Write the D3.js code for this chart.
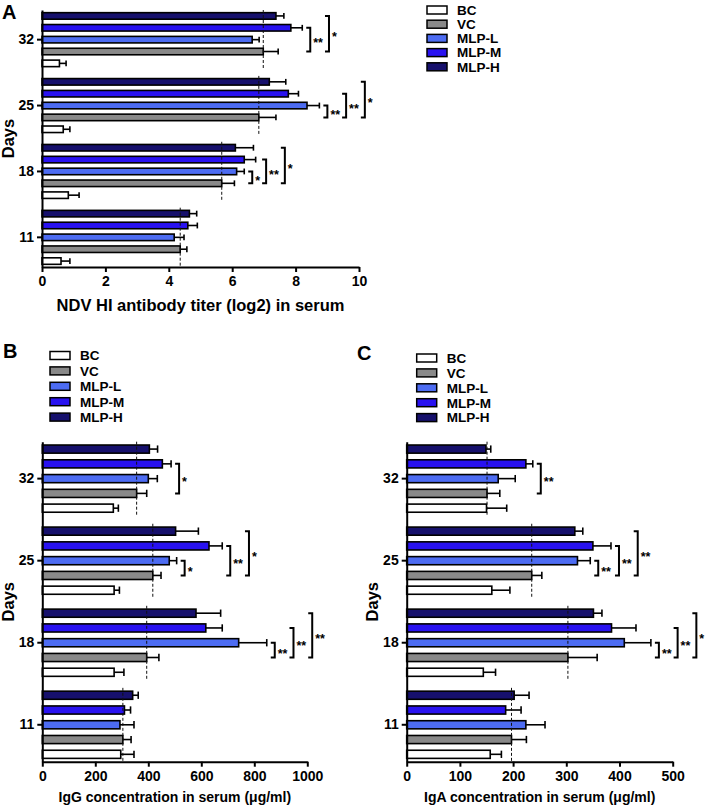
<!DOCTYPE html>
<html><head><meta charset="utf-8">
<script src="https://cdn.jsdelivr.net/npm/d3@7"></script>
<style>
body{margin:0;background:#fff}
svg{display:block}
text{font-family:"Liberation Sans",Arial,Helvetica,sans-serif;font-weight:bold;fill:#000}
</style>
</head><body>
<svg id="chart" width="705" height="807"></svg>
<script>
// ---------- shared categories ----------
const days = ["11", "18", "25", "32"];
const dayOrder = ["32", "25", "18", "11"];            // top to bottom
const seriesNames = ["BC", "VC", "MLP-L", "MLP-M", "MLP-H"];
const seriesOrder = ["MLP-H", "MLP-M", "MLP-L", "VC", "BC"]; // top to bottom in a group
const seriesColors = ["#ffffff", "#898989", "#4d6cf2", "#2912f0", "#16106c"];

// ---------- Panel A: NDV HI antibody titer (log2) ----------
const hiBC   = [0.60, 0.83, 0.67, 0.55];
const hiVC   = [4.36, 5.67, 6.84, 6.98];
const hiL    = [4.17, 6.14, 8.36, 6.63];
const hiM    = [4.60, 6.38, 7.77, 7.85];
const hiH    = [4.65, 6.10, 7.17, 7.38];
const hiBCsd = [0.28, 0.34, 0.21, 0.21];
const hiVCsd = [0.21, 0.40, 0.54, 0.47];
const hiLsd  = [0.31, 0.24, 0.39, 0.22];
const hiMsd  = [0.30, 0.36, 0.32, 0.36];
const hiHsd  = [0.23, 0.57, 0.52, 0.25];
const hiTicks = [0, 2, 4, 6, 8, 10];
const hiSig = [["32","MLP-M","**"],["32","MLP-H","*"],
               ["25","MLP-L","**"],["25","MLP-M","**"],["25","MLP-H","*"],
               ["18","MLP-L","*"],["18","MLP-M","**"],["18","MLP-H","*"]];

// ---------- Panel B: IgG (µg/ml) ----------
const iggBC   = [296, 271, 271, 268];
const iggVC   = [304, 394, 417, 356];
const iggL    = [293, 741, 479, 400];
const iggM    = [310, 617, 629, 453];
const iggH    = [341, 580, 503, 404];
const iggBCsd = [50, 37, 20, 19];
const iggVCsd = [31, 46, 31, 38];
const iggLsd  = [53, 106, 28, 34];
const iggMsd  = [23, 62, 50, 33];
const iggHsd  = [21, 93, 86, 31];
const iggTicks = [0, 200, 400, 600, 800, 1000];
const iggSig = [["32","MLP-M","*"],
                ["25","MLP-L","*"],["25","MLP-M","**"],["25","MLP-H","*"],
                ["18","MLP-L","**"],["18","MLP-M","**"],["18","MLP-H","**"]];

// ---------- Panel C: IgA (µg/ml) ----------
const igaBC   = [157, 144, 160, 150];
const igaVC   = [197, 303, 235, 151];
const igaL    = [224, 409, 321, 172];
const igaM    = [186, 385, 350, 224];
const igaH    = [202, 351, 316, 149];
const igaBCsd = [21, 23, 34, 38];
const igaVCsd = [28, 55, 19, 24];
const igaLsd  = [36, 50, 24, 32];
const igaMsd  = [29, 46, 34, 13];
const igaHsd  = [28, 16, 15, 9];
const igaTicks = [0, 100, 200, 300, 400, 500];
const igaSig = [["32","MLP-M","**"],
                ["25","MLP-L","**"],["25","MLP-M","**"],["25","MLP-H","**"],
                ["18","MLP-L","**"],["18","MLP-M","**"],["18","MLP-H","*"]];

const svg = d3.select("#chart");

function drawPanel(o) {
  const g = svg.append("g");
  const x = d3.scaleLinear().domain([0, o.ticks[o.ticks.length - 1]]).range([o.x0, o.x1]);
  const yDay = d3.scaleBand().domain(dayOrder).range([o.yTop, o.yBottom]).paddingInner(0.1).paddingOuter(0);
  const ySer = d3.scaleBand().domain(seriesOrder).range([0, yDay.bandwidth()]).paddingInner(o.barPad).paddingOuter(o.barPad / 2);
  const bh = ySer.bandwidth();

  const rows = [];
  seriesNames.forEach((s, si) => {
    days.forEach((d, di) => {
      rows.push({day: d, series: s, color: seriesColors[si], mean: o.means[si][di], sd: o.sds[si][di]});
    });
  });
  const yc = r => yDay(r.day) + ySer(r.series) + bh / 2;
  const get = (d, s) => rows.find(r => r.day === d && r.series === s);

  // bars
  g.selectAll("rect.bar").data(rows).join("rect")
    .attr("x", x(0)).attr("y", r => yDay(r.day) + ySer(r.series))
    .attr("width", r => x(r.mean) - x(0)).attr("height", bh)
    .attr("fill", r => r.color).attr("stroke", "#000").attr("stroke-width", 1.6);

  // error bars
  g.selectAll("line.err").data(rows).join("line")
    .attr("x1", r => x(r.mean)).attr("x2", r => x(r.mean + r.sd))
    .attr("y1", yc).attr("y2", yc).attr("stroke", "#000").attr("stroke-width", 1.6);
  g.selectAll("line.cap").data(rows).join("line")
    .attr("x1", r => x(r.mean + r.sd)).attr("x2", r => x(r.mean + r.sd))
    .attr("y1", r => yc(r) - bh * 0.45).attr("y2", r => yc(r) + bh * 0.45)
    .attr("stroke", "#000").attr("stroke-width", 1.6);

  // dashed reference lines at VC
  g.selectAll("line.ref").data(days).join("line")
    .attr("x1", d => x(get(d, "VC").mean)).attr("x2", d => x(get(d, "VC").mean))
    .attr("y1", d => yDay(d)).attr("y2", d => yDay(d) + yDay.bandwidth())
    .attr("stroke", "#111").attr("stroke-width", 1).attr("stroke-dasharray", "3,2");

  // significance brackets
  const lastByDay = {};
  o.sig.forEach(([d, s, lab]) => {
    const i0 = seriesOrder.indexOf(s), i1 = seriesOrder.indexOf("VC");
    let maxEnd = 0;
    for (let i = i0; i <= i1; i++) { const r = get(d, seriesOrder[i]); maxEnd = Math.max(maxEnd, r.mean + r.sd); }
    let bx = x(maxEnd) + 8;
    if (lastByDay[d]) bx = Math.max(bx, lastByDay[d]);
    const yA = yc(get(d, s)), yB = yc(get(d, "VC"));
    g.append("path").attr("d", `M${bx - 4},${yA}H${bx}V${yB}H${bx - 4}`)
      .attr("fill", "none").attr("stroke", "#000").attr("stroke-width", 2);
    const t = g.append("text").attr("x", bx + 3).attr("y", (yA + yB) / 2 + 7.5)
      .attr("font-size", 12.5).text(lab);
    lastByDay[d] = bx + 3 + t.node().getComputedTextLength() + 6;
  });

  // axes
  const xa = g.append("g").attr("transform", `translate(0,${o.yBottom})`)
    .call(d3.axisBottom(x).tickValues(o.ticks).tickFormat(d3.format("d"))
      .tickSize(5).tickSizeOuter(0).tickPadding(4));
  const ya = g.append("g").attr("transform", `translate(${o.x0},0)`)
    .call(d3.axisLeft(yDay).tickSize(5).tickSizeOuter(0).tickPadding(3));
  [xa, ya].forEach(a => {
    a.selectAll("path,line").attr("stroke", "#000").attr("stroke-width", 2);
    a.selectAll("text").attr("font-size", 14).attr("font-family", null).attr("fill", "#000");
  });

  // titles
  g.append("text").attr("x", (o.x0 + o.x1) / 2).attr("y", o.titleY).attr("text-anchor", "middle")
    .attr("font-size", o.titleSize).text(o.title);
  g.append("text").attr("transform", `translate(${o.daysX},${(o.yTop + o.yBottom) / 2}) rotate(-90)`)
    .attr("text-anchor", "middle").attr("font-size", 16.5).text("Days");
  g.append("text").attr("x", o.letterX).attr("y", o.letterY).attr("font-size", 20).text(o.letter);

  // legend
  const lg = g.append("g");
  seriesNames.forEach((s, i) => {
    const cy = o.legY + i * o.legStep;
    lg.append("rect").attr("x", o.legX).attr("y", cy - 4).attr("width", 20).attr("height", 8)
      .attr("fill", seriesColors[i]).attr("stroke", "#000").attr("stroke-width", 1.5);
    lg.append("text").attr("x", o.legX + 30).attr("y", cy + 4.8).attr("font-size", 13.5).text(s);
  });
}

drawPanel({
  means: [hiBC, hiVC, hiL, hiM, hiH], sds: [hiBCsd, hiVCsd, hiLsd, hiMsd, hiHsd],
  ticks: hiTicks, sig: hiSig, x0: 42, x1: 359, yTop: 10, yBottom: 267, barPad: 0.45,
  title: "NDV HI antibody titer (log2) in serum", titleY: 311, titleSize: 16.5,
  daysX: 13.5, letter: "A", letterX: 2, letterY: 19,
  legX: 427, legY: 10, legStep: 14.2
});
drawPanel({
  means: [iggBC, iggVC, iggL, iggM, iggH], sds: [iggBCsd, iggVCsd, iggLsd, iggMsd, iggHsd],
  ticks: iggTicks, sig: iggSig, x0: 42.3, x1: 307.3, yTop: 441.7, yBottom: 761.7, barPad: 0.45,
  title: "IgG concentration in serum (\u03BCg/ml)", titleY: 802, titleSize: 14,
  daysX: 13.5, letter: "B", letterX: 3, letterY: 358,
  legX: 50, legY: 355.5, legStep: 15.4
});
drawPanel({
  means: [igaBC, igaVC, igaL, igaM, igaH], sds: [igaBCsd, igaVCsd, igaLsd, igaMsd, igaHsd],
  ticks: igaTicks, sig: igaSig, x0: 406.7, x1: 672.7, yTop: 441.7, yBottom: 761.7, barPad: 0.45,
  title: "IgA concentration in serum (\u03BCg/ml)", titleY: 802, titleSize: 14,
  daysX: 378, letter: "C", letterX: 357, letterY: 360,
  legX: 416.7, legY: 358, legStep: 14.9
});
</script>
</body></html>
